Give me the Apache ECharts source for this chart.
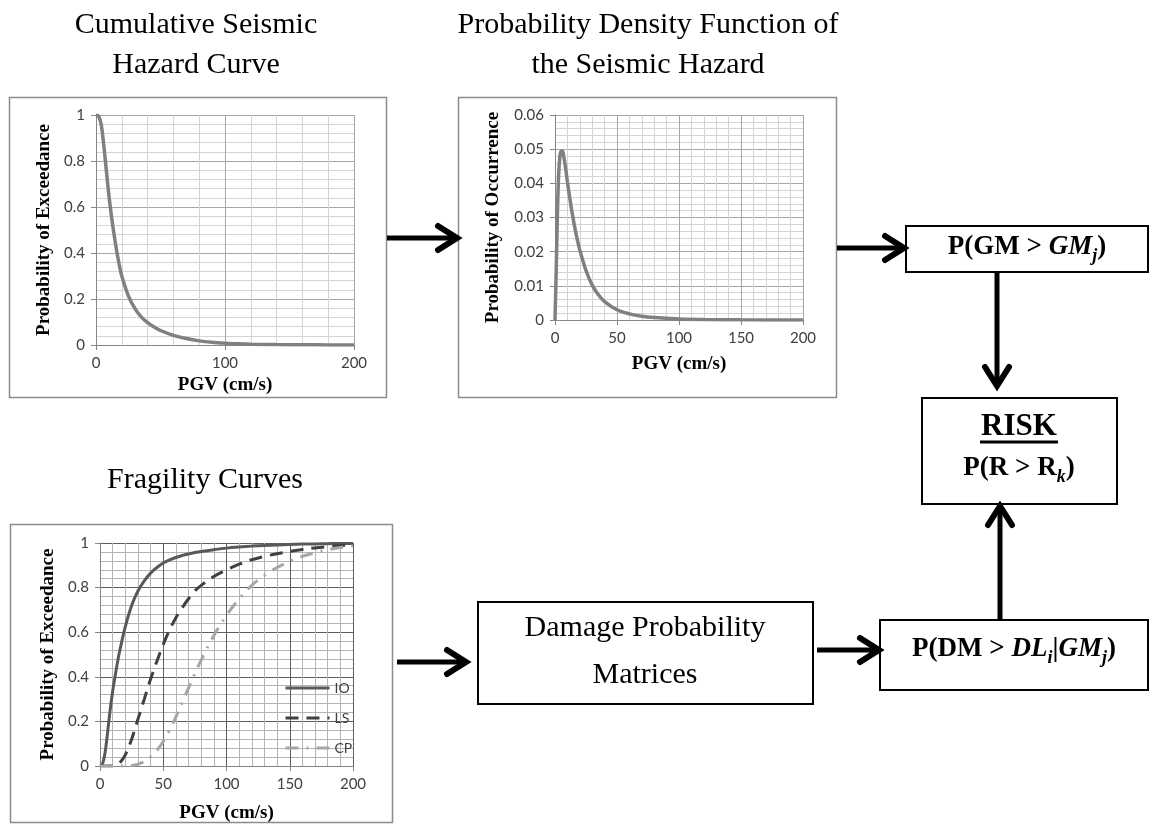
<!DOCTYPE html>
<html lang="en">
<head>
    <title>Seismic Risk Framework</title>
    <meta charset="utf-8">
    <style>
        body {
            margin: 0;
            background-color: white;
        }
    </style>
</head>
<body>
    <div id="chart" style="width: 1150px; height: 827px"></div>
    <script src="https://cdn.jsdelivr.net/npm/echarts@6/dist/echarts.min.js"></script>
    <script>
        // cumulative seismic hazard curve
        var hazardPgv = [0, 2, 4, 6, 8, 10, 12, 14, 16, 18, 20, 25, 30, 35, 40, 45, 50, 60, 70, 80, 90, 100, 110, 120, 140, 160, 180, 200];
        var hazardProb = [1, 0.995, 0.96, 0.87, 0.76, 0.65, 0.56, 0.48, 0.41, 0.35, 0.3, 0.215, 0.16, 0.122, 0.097, 0.078, 0.063, 0.042, 0.028, 0.018, 0.012, 0.008, 0.005, 0.0035, 0.0017, 0.0008, 0.0004, 0.0002];

        // probability density function of the hazard
        var pdfPgv = [0, 1, 2, 3, 4, 5, 6, 7, 8, 10, 12, 14, 16, 18, 20, 25, 30, 35, 40, 50, 60, 70, 80, 100, 120, 150, 200];
        var pdfProb = [0, 0.015, 0.032, 0.043, 0.048, 0.0495, 0.0495, 0.048, 0.0458, 0.0405, 0.0355, 0.031, 0.027, 0.0235, 0.0205, 0.0145, 0.0102, 0.0074, 0.0054, 0.003, 0.0018, 0.0011, 0.0007, 0.0003, 0.00015, 0.00005, 0];

        // fragility curves
        var fragPgv = [0, 2, 4, 6, 8, 10, 12, 15, 20, 25, 30, 35, 40, 45, 50, 55, 60, 65, 70, 75, 80, 90, 100, 110, 120, 130, 140, 150, 160, 170, 180, 190, 200];
        var fragIO = [0, 0.01, 0.06, 0.15, 0.25, 0.335, 0.405, 0.5, 0.625, 0.72, 0.785, 0.83, 0.865, 0.89, 0.91, 0.924, 0.935, 0.944, 0.951, 0.957, 0.962, 0.97, 0.977, 0.982, 0.986, 0.989, 0.991, 0.993, 0.995, 0.996, 0.997, 0.998, 0.998];
        var fragLS = [0, 0, 0, 0, 0, 0, 0, 0.01, 0.05, 0.12, 0.21, 0.3, 0.39, 0.47, 0.545, 0.61, 0.665, 0.71, 0.75, 0.785, 0.81, 0.85, 0.88, 0.905, 0.925, 0.94, 0.952, 0.962, 0.971, 0.978, 0.984, 0.989, 0.992];
        var fragCP = [0, 0, 0, 0, 0, 0, 0, 0, 0, 0.002, 0.008, 0.02, 0.04, 0.07, 0.11, 0.16, 0.22, 0.285, 0.35, 0.415, 0.475, 0.585, 0.675, 0.75, 0.81, 0.855, 0.89, 0.918, 0.94, 0.957, 0.97, 0.98, 0.987];
        var fragNames = ["IO", "LS", "CP"];

        var serif = "Liberation Serif";
        var sans = "Lato";

        function pairs(xs, ys) {
            return xs.map(function (x, i) { return [x, ys[i]]; });
        }

        function axis(grid, min, max, interval, dark, light, extra) {
            var a = {
                gridIndex: grid,
                type: "value",
                min: min,
                max: max,
                interval: interval,
                axisLine: { show: true, lineStyle: { color: "#868686", width: 1 } },
                axisTick: { show: true, length: 5, lineStyle: { color: "#868686" } },
                axisLabel: { fontFamily: sans, fontSize: 15, color: "#404040", margin: 11 },
                splitLine: { show: true, lineStyle: { color: dark, width: 1 } },
                minorTick: { show: false, splitNumber: 5 },
                minorSplitLine: { show: true, lineStyle: { color: light, width: 1 } },
                nameLocation: "middle",
                nameTextStyle: { fontFamily: serif, fontWeight: "bold", fontSize: 19, color: "#000" }
            };
            for (var k in extra) a[k] = extra[k];
            return a;
        }

        function arrow(x1, y1, x2, y2) {
            var len = Math.sqrt((x2 - x1) * (x2 - x1) + (y2 - y1) * (y2 - y1));
            var dx = (x2 - x1) / len, dy = (y2 - y1) / len;
            var nx = -dy, ny = dx;
            return [
                {
                    type: "line",
                    shape: { x1: x1, y1: y1, x2: x2 - dx * 3, y2: y2 - dy * 3 },
                    style: { stroke: "#000", lineWidth: 5 }
                },
                {
                    type: "polyline",
                    shape: {
                        points: [
                            [x2 - dx * 19 + nx * 12, y2 - dy * 19 + ny * 12],
                            [x2, y2],
                            [x2 - dx * 19 - nx * 12, y2 - dy * 19 - ny * 12]
                        ]
                    },
                    style: { stroke: "#000", fill: "none", lineWidth: 6, lineCap: "round", lineJoin: "miter" }
                }
            ];
        }

        function box(x, y, w, h, color, width) {
            return {
                type: "rect",
                shape: { x: x, y: y, width: w, height: h },
                style: { fill: "none", stroke: color, lineWidth: width }
            };
        }

        function label(x, y, text, size, lineHeight) {
            return {
                type: "text",
                x: x,
                y: y,
                style: {
                    text: text,
                    font: size + "px \"" + serif + "\"",
                    lineHeight: lineHeight,
                    fill: "#000",
                    textAlign: "center",
                    textVerticalAlign: "middle",
                    align: "center",
                    verticalAlign: "middle"
                }
            };
        }

        var mathRich = {
            b: { fontFamily: serif, fontWeight: "bold", fontSize: 27, lineHeight: 36, fill: "#000" },
            bi: { fontFamily: serif, fontWeight: "bold", fontStyle: "italic", fontSize: 27, lineHeight: 36, fill: "#000" },
            s: { fontFamily: serif, fontWeight: "bold", fontStyle: "italic", fontSize: 18, lineHeight: 20, verticalAlign: "bottom", fill: "#000" },
            risk: { fontFamily: serif, fontWeight: "bold", fontSize: 31, lineHeight: 40, fill: "#000" }
        };

        function formula(x, y, text) {
            return {
                type: "text",
                x: x,
                y: y,
                style: {
                    text: text,
                    rich: mathRich,
                    textAlign: "center",
                    textVerticalAlign: "middle",
                    align: "center",
                    verticalAlign: "middle"
                }
            };
        }

        var graphics = [
            box(9.5, 97.5, 377, 300, "#8c8c8c", 1.5),
            box(458.5, 97.5, 378, 300, "#8c8c8c", 1.5),
            box(10.5, 524.5, 382, 298, "#8c8c8c", 1.5),
            box(906, 226, 242, 46, "#000", 2),
            box(922, 398, 195, 106, "#000", 2),
            box(880, 620, 268, 70, "#000", 2),
            box(478, 602, 335, 102, "#000", 2),
            label(196, 45, "Cumulative Seismic\nHazard Curve", 30, 40),
            label(648, 45, "Probability Density Function of\nthe Seismic Hazard", 30, 40),
            label(205, 480, "Fragility Curves", 30, 40),
            label(645, 652, "Damage Probability\nMatrices", 30, 47),
            formula(1027, 247, "{b|P(GM > }{bi|GM}{s|j}{b|)}"),
            formula(1019, 427, "{risk|RISK}"),
            {
                type: "line",
                shape: { x1: 980, y1: 442, x2: 1058, y2: 442 },
                style: { stroke: "#000", lineWidth: 3 }
            },
            formula(1019, 468, "{b|P(R > R}{s|k}{b|)}"),
            formula(1014, 649, "{b|P(DM > }{bi|DL}{s|i}{b||}{bi|GM}{s|j}{b|)}")
        ]
            .concat(arrow(387, 238, 457, 238))
            .concat(arrow(837, 248, 904, 248))
            .concat(arrow(997, 272, 997, 386))
            .concat(arrow(1000, 620, 1000, 506))
            .concat(arrow(397, 662, 466, 662))
            .concat(arrow(817, 650, 879, 650));

        var chart = echarts.init(document.getElementById("chart"), null, { renderer: "canvas" });

        function curve(name, xi, xs, ys, color, width, dash) {
            return {
                name: name,
                type: "line",
                xAxisIndex: xi,
                yAxisIndex: xi,
                data: pairs(xs, ys),
                smooth: 0.35,
                symbol: "none",
                itemStyle: { color: color },
                lineStyle: { color: color, width: width, type: dash || "solid" }
            };
        }

        chart.setOption({
            animation: false,
            backgroundColor: "#fff",
            grid: [
                { left: 96, top: 115, width: 258, height: 230 },
                { left: 555, top: 115, width: 248, height: 205 },
                { left: 100, top: 543, width: 253, height: 223 }
            ],
            xAxis: [
                axis(0, 0, 200, 100, "#a6a6a6", "#d4d4d4", { name: "PGV (cm/s)", nameGap: 31 }),
                axis(1, 0, 200, 50, "#a6a6a6", "#d4d4d4", { name: "PGV (cm/s)", nameGap: 35 }),
                axis(2, 0, 200, 50, "#5e5e5e", "#b4b4b4", { name: "PGV (cm/s)", nameGap: 38 })
            ],
            yAxis: [
                axis(0, 0, 1, 0.2, "#a6a6a6", "#d4d4d4", { name: "Probability of Exceedance", nameGap: 42 }),
                axis(1, 0, 0.06, 0.01, "#a6a6a6", "#d4d4d4", { name: "Probability of Occurrence", nameGap: 52 }),
                axis(2, 0, 1, 0.2, "#5e5e5e", "#b4b4b4", { name: "Probability of Exceedance", nameGap: 42 })
            ],
            legend: {
                data: fragNames,
                orient: "vertical",
                left: 279,
                top: 676,
                itemWidth: 44,
                itemHeight: 14,
                itemGap: 16,
                itemStyle: { opacity: 0 },
                lineStyle: { width: 3 },
                textStyle: { fontFamily: sans, fontSize: 14, color: "#404040" }
            },
            graphic: graphics,
            series: [
                curve("hazard", 0, hazardPgv, hazardProb, "#808080", 3.5),
                curve("pdf", 1, pdfPgv, pdfProb, "#808080", 3.5),
                curve(fragNames[0], 2, fragPgv, fragIO, "#595959", 3),
                curve(fragNames[1], 2, fragPgv, fragLS, "#404040", 3, [13, 8]),
                curve(fragNames[2], 2, fragPgv, fragCP, "#a6a6a6", 3, [13, 8, 2, 8])
            ]
        });
    </script>
</body>
</html>
